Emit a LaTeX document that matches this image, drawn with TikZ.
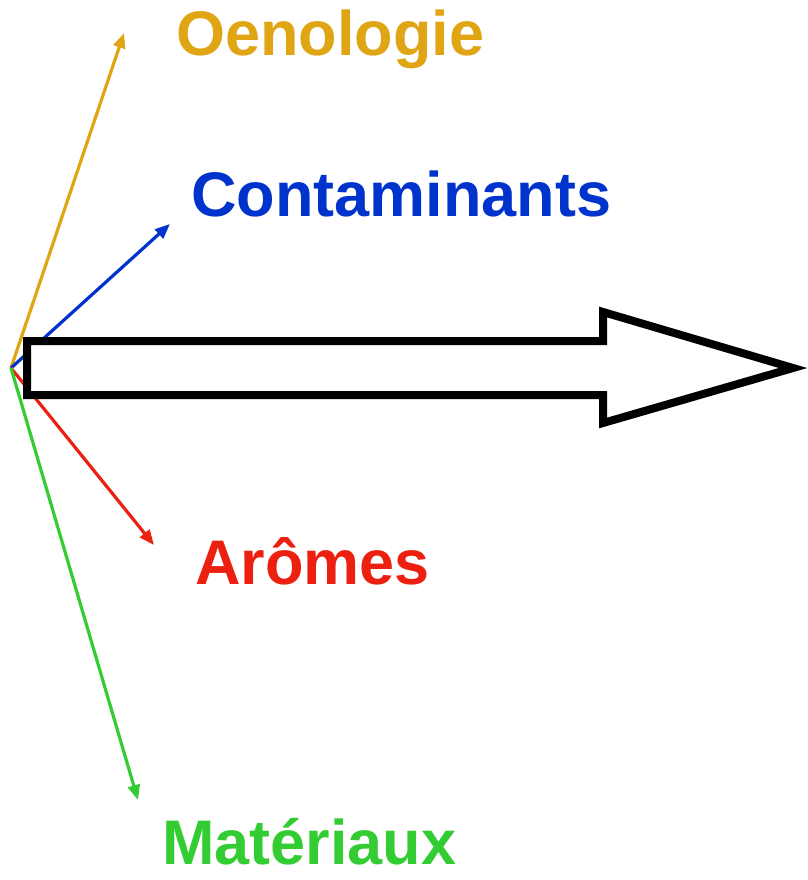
\documentclass[tikz,border=0pt]{standalone}
\usepackage{fontspec}
\setmainfont{Liberation Sans}
\usetikzlibrary{arrows.meta}

\definecolor{oenoorange}{RGB}{224,165,20}
\definecolor{contblue}{RGB}{0,51,204}
\definecolor{aromered}{RGB}{236,32,16}
\definecolor{matgreen}{RGB}{51,204,51}

\begin{document}
\begin{tikzpicture}[
    x=1pt, y=-1pt,
    label/.style={anchor=base west, inner sep=0pt, font=\fontsize{63}{70}\selectfont\bfseries},
    ray/.style={line width=3.2pt, -{Triangle[length=15pt, width=12pt]}},
    bigarrow/.style={draw=black, fill=white, line width=8pt}
]
    \useasboundingbox (0,0) rectangle (807,880);

    % Common origin of the rays
    \coordinate (o) at (11, 368);

    % Ray ends
    \coordinate (oenoend) at (124, 33);
    \coordinate (contend) at (170, 224);
    \coordinate (aromend) at (154, 545);
    \coordinate (matend)  at (138, 800);

    % Labels
    \node[label, text=oenoorange] (oeno) at (176, 56)  {Oenologie};
    \node[label, text=contblue]   (cont) at (191, 216) {Contaminants};
    \node[label, text=aromered]   (arom) at (195, 584) {Arômes};
    \node[label, text=matgreen]   (mat)  at (162, 864) {Matériaux};

    % Rays from the origin
    \draw[ray, oenoorange] (o) -- (oenoend);
    \draw[ray, contblue]   (o) -- (contend);
    \draw[ray, aromered]   (o) -- (aromend);
    \draw[ray, matgreen]   (o) -- (matend);

    % Big hollow arrow on top
    \draw[bigarrow] (27, 341) -- (603, 341) -- (603, 312) -- (793, 368)
        -- (603, 423) -- (603, 395) -- (27, 395) -- cycle;

\end{tikzpicture}
\end{document}
